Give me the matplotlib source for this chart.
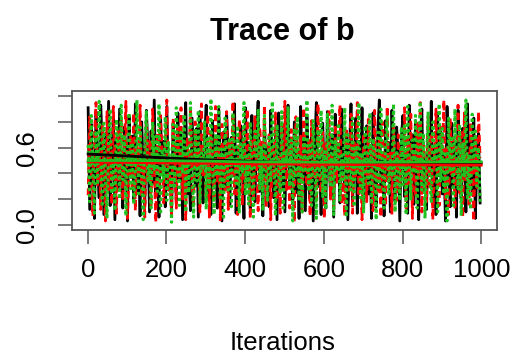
# trace plot of parameter b, three chains (coda-style)

import numpy as np
import matplotlib
matplotlib.use('Agg')
import matplotlib.pyplot as plt

plt.rcParams['font.family'] = ['Liberation Sans', 'DejaVu Sans']

iters = np.arange(1, 1001, 4)

chain_black = [
    0.91, 0.12, 0.78, 0.35, 0.05, 0.88, 0.47, 0.21, 0.93, 0.62,
    0.08, 0.71, 0.33, 0.96, 0.15, 0.54, 0.82, 0.04, 0.67, 0.29,
    0.90, 0.41, 0.13, 0.76, 0.58, 0.03, 0.85, 0.37, 0.69, 0.18,
    0.94, 0.25, 0.51, 0.07, 0.80, 0.44, 0.16, 0.89, 0.60, 0.10,
    0.73, 0.32, 0.97, 0.22, 0.56, 0.06, 0.84, 0.39, 0.65, 0.14,
    0.92, 0.27, 0.49, 0.09, 0.79, 0.53, 0.19, 0.87, 0.36, 0.70,
    0.04, 0.63, 0.95, 0.24, 0.45, 0.11, 0.83, 0.57, 0.30, 0.75,
    0.06, 0.88, 0.42, 0.17, 0.66, 0.93, 0.20, 0.52, 0.08, 0.81,
    0.34, 0.61, 0.13, 0.90, 0.46, 0.03, 0.72, 0.28, 0.86, 0.55,
    0.15, 0.68, 0.38, 0.94, 0.09, 0.59, 0.23, 0.77, 0.48, 0.05,
    0.91, 0.31, 0.64, 0.12, 0.85, 0.43, 0.18, 0.74, 0.96, 0.26,
    0.50, 0.07, 0.82, 0.35, 0.60, 0.14, 0.89, 0.40, 0.21, 0.71,
    0.04, 0.87, 0.54, 0.29, 0.78, 0.10, 0.66, 0.93, 0.33, 0.47,
    0.16, 0.80, 0.25, 0.58, 0.05, 0.92, 0.37, 0.69, 0.11, 0.84,
    0.44, 0.20, 0.75, 0.03, 0.62, 0.95, 0.30, 0.51, 0.08, 0.79,
    0.41, 0.13, 0.88, 0.56, 0.22, 0.70, 0.06, 0.86, 0.34, 0.63,
    0.17, 0.90, 0.48, 0.27, 0.73, 0.04, 0.57, 0.94, 0.19, 0.45,
    0.83, 0.09, 0.65, 0.32, 0.91, 0.12, 0.53, 0.77, 0.24, 0.60,
    0.05, 0.87, 0.39, 0.14, 0.72, 0.97, 0.28, 0.50, 0.07, 0.81,
    0.36, 0.64, 0.10, 0.89, 0.43, 0.18, 0.76, 0.55, 0.03, 0.68,
    0.85, 0.22, 0.58, 0.09, 0.93, 0.41, 0.70, 0.16, 0.81, 0.35,
    0.04, 0.66, 0.90, 0.27, 0.52, 0.12, 0.77, 0.45, 0.96, 0.19,
    0.61, 0.08, 0.87, 0.38, 0.73, 0.24, 0.55, 0.03, 0.92, 0.47,
    0.14, 0.79, 0.31, 0.64, 0.06, 0.89, 0.42, 0.20, 0.75, 0.57,
    0.10, 0.94, 0.33, 0.68, 0.26, 0.83, 0.05, 0.50, 0.71, 0.17,
]

chain_red = [
    0.23, 0.84, 0.41, 0.07, 0.69, 0.95, 0.31, 0.58, 0.12, 0.77,
    0.46, 0.03, 0.88, 0.27, 0.63, 0.16, 0.92, 0.52, 0.09, 0.74,
    0.35, 0.81, 0.19, 0.57, 0.96, 0.05, 0.43, 0.70, 0.26, 0.87,
    0.11, 0.61, 0.38, 0.93, 0.21, 0.49, 0.06, 0.79, 0.33, 0.66,
    0.14, 0.90, 0.45, 0.02, 0.72, 0.29, 0.85, 0.54, 0.17, 0.62,
    0.97, 0.25, 0.40, 0.08, 0.83, 0.59, 0.13, 0.76, 0.36, 0.91,
    0.20, 0.55, 0.04, 0.68, 0.47, 0.89, 0.30, 0.15, 0.80, 0.42,
    0.64, 0.10, 0.94, 0.37, 0.53, 0.22, 0.86, 0.06, 0.71, 0.48,
    0.18, 0.92, 0.34, 0.60, 0.03, 0.78, 0.44, 0.27, 0.88, 0.12,
    0.65, 0.39, 0.96, 0.24, 0.51, 0.08, 0.82, 0.57, 0.15, 0.73,
    0.32, 0.90, 0.46, 0.05, 0.67, 0.21, 0.85, 0.41, 0.11, 0.76,
    0.58, 0.28, 0.93, 0.14, 0.49, 0.70, 0.04, 0.62, 0.35, 0.87,
    0.19, 0.54, 0.09, 0.79, 0.43, 0.96, 0.26, 0.61, 0.13, 0.74,
    0.38, 0.02, 0.84, 0.52, 0.23, 0.69, 0.10, 0.91, 0.45, 0.30,
    0.66, 0.07, 0.81, 0.36, 0.57, 0.17, 0.94, 0.40, 0.25, 0.72,
    0.05, 0.63, 0.47, 0.88, 0.20, 0.55, 0.12, 0.78, 0.33, 0.60,
    0.93, 0.16, 0.42, 0.07, 0.75, 0.50, 0.27, 0.86, 0.09, 0.64,
    0.37, 0.95, 0.22, 0.53, 0.04, 0.71, 0.44, 0.18, 0.82, 0.31,
    0.59, 0.11, 0.89, 0.39, 0.24, 0.67, 0.06, 0.80, 0.48, 0.15,
    0.92, 0.34, 0.56, 0.08, 0.77, 0.42, 0.19, 0.70, 0.29, 0.61,
    0.44, 0.91, 0.13, 0.67, 0.30, 0.86, 0.05, 0.58, 0.22, 0.79,
    0.36, 0.95, 0.10, 0.63, 0.48, 0.18, 0.84, 0.27, 0.71, 0.04,
    0.55, 0.90, 0.33, 0.15, 0.76, 0.42, 0.97, 0.20, 0.60, 0.08,
    0.83, 0.39, 0.68, 0.12, 0.50, 0.93, 0.25, 0.74, 0.06, 0.87,
    0.35, 0.57, 0.16, 0.80, 0.46, 0.03, 0.69, 0.29, 0.88, 0.52,
]

chain_green = [
    0.62, 0.18, 0.85, 0.44, 0.09, 0.73, 0.31, 0.96, 0.52, 0.14,
    0.79, 0.37, 0.05, 0.66, 0.90, 0.24, 0.48, 0.11, 0.82, 0.58,
    0.20, 0.93, 0.35, 0.70, 0.07, 0.55, 0.87, 0.28, 0.64, 0.16,
    0.45, 0.97, 0.22, 0.76, 0.39, 0.04, 0.61, 0.88, 0.33, 0.51,
    0.13, 0.80, 0.42, 0.69, 0.26, 0.94, 0.08, 0.57, 0.36, 0.84,
    0.19, 0.65, 0.47, 0.02, 0.78, 0.30, 0.91, 0.53, 0.15, 0.72,
    0.40, 0.86, 0.10, 0.60, 0.25, 0.95, 0.46, 0.06, 0.75, 0.34,
    0.89, 0.17, 0.56, 0.43, 0.81, 0.12, 0.67, 0.29, 0.98, 0.50,
    0.08, 0.71, 0.38, 0.92, 0.21, 0.59, 0.04, 0.83, 0.45, 0.27,
    0.68, 0.14, 0.87, 0.52, 0.32, 0.77, 0.09, 0.63, 0.41, 0.95,
    0.23, 0.54, 0.16, 0.80, 0.37, 0.06, 0.73, 0.49, 0.90, 0.28,
    0.61, 0.11, 0.85, 0.44, 0.19, 0.70, 0.33, 0.96, 0.55, 0.07,
    0.78, 0.40, 0.24, 0.88, 0.13, 0.58, 0.47, 0.92, 0.30, 0.66,
    0.03, 0.75, 0.36, 0.84, 0.20, 0.53, 0.10, 0.69, 0.43, 0.97,
    0.26, 0.62, 0.15, 0.81, 0.50, 0.05, 0.74, 0.38, 0.89, 0.22,
    0.57, 0.12, 0.86, 0.46, 0.31, 0.93, 0.08, 0.65, 0.42, 0.79,
    0.18, 0.54, 0.35, 0.91, 0.06, 0.70, 0.48, 0.27, 0.83, 0.14,
    0.60, 0.39, 0.95, 0.21, 0.56, 0.09, 0.77, 0.44, 0.32, 0.87,
    0.16, 0.67, 0.50, 0.04, 0.72, 0.29, 0.90, 0.41, 0.13, 0.64,
    0.85, 0.23, 0.52, 0.37, 0.94, 0.10, 0.58, 0.46, 0.19, 0.76,
    0.31, 0.77, 0.08, 0.92, 0.49, 0.20, 0.66, 0.40, 0.85, 0.13,
    0.58, 0.96, 0.27, 0.71, 0.05, 0.53, 0.88, 0.36, 0.17, 0.80,
    0.45, 0.62, 0.10, 0.94, 0.34, 0.75, 0.24, 0.57, 0.03, 0.83,
    0.41, 0.69, 0.15, 0.90, 0.51, 0.28, 0.78, 0.07, 0.64, 0.38,
    0.97, 0.21, 0.55, 0.12, 0.86, 0.44, 0.73, 0.30, 0.60, 0.18,
]

# smoothed lines through each chain
smooth_x = [1, 100, 200, 300, 400, 500, 600, 700, 800, 900, 1000]
smooth_black = [0.55, 0.535, 0.52, 0.505, 0.495, 0.485, 0.48, 0.48, 0.478, 0.478, 0.478]
smooth_red = [0.49, 0.485, 0.48, 0.478, 0.475, 0.472, 0.47, 0.468, 0.466, 0.465, 0.464]
smooth_green = [0.50, 0.50, 0.498, 0.495, 0.49, 0.488, 0.487, 0.487, 0.488, 0.49, 0.49]

xticks = [0, 200, 400, 600, 800, 1000]
yticks = [0.0, 0.2, 0.4, 0.6, 0.8, 1.0]
ytick_labels = ['0.0', '', '', '0.6', '', '']

green = '#1fc21f'

fig = plt.figure(figsize=(5.13, 3.54), dpi=100)
ax = fig.add_axes([72/513, 1-230/354, 425/513, 139/354])

ax.plot(iters, chain_black, color='black', linewidth=2.0, linestyle='-')
ax.plot(iters, chain_red, color='red', linewidth=2.0, dashes=(2.5, 1.5))
ax.plot(iters, chain_green, color=green, linewidth=2.2, dashes=(1, 1))

ax.plot(smooth_x, smooth_black, color='black', linewidth=2.0)
ax.plot(smooth_x, smooth_red, color='red', linewidth=2.0)
ax.plot(smooth_x, smooth_green, color=green, linewidth=2.0)

ax.set_xlim(-40, 1040)
ax.set_ylim(-0.04, 1.04)
ax.set_xticks(xticks)
ax.set_yticks(yticks)
ax.set_yticklabels(ytick_labels)

for s in ax.spines.values():
    s.set_color('#555555')
    s.set_linewidth(1.3)

ax.tick_params(axis='both', direction='out', length=10, width=1.1, color='#555555', labelsize=18.5)
ax.tick_params(axis='x', pad=10)
ax.tick_params(axis='y', pad=14)
for lab in ax.get_yticklabels():
    lab.set_rotation(90)
    lab.set_va('center')

fig.text(282/513, 1-32/354, 'Trace of b', ha='center', va='center', fontsize=22, fontweight='bold')
fig.text(283/513, 1-343/354, 'Iterations', ha='center', va='center', fontsize=18.5)

plt.savefig('out.png', dpi=100)
